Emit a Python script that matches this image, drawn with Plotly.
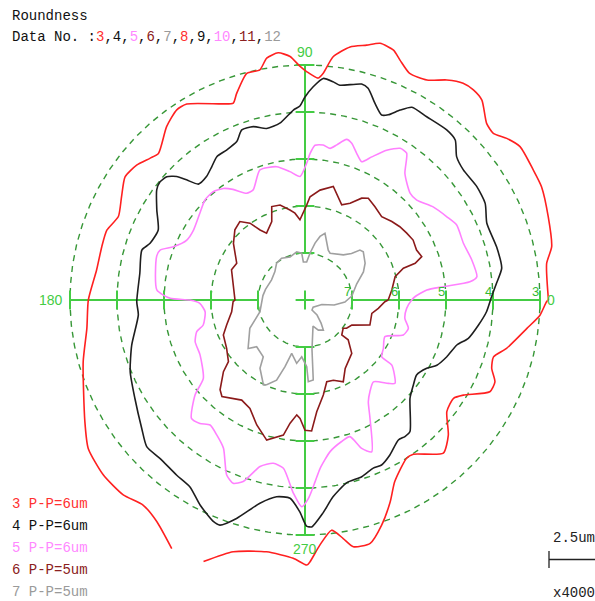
import numpy as np
import plotly.graph_objects as go

# ---------------------------------------------------------------------------
# Roundness profiles: polar angle (degrees) and radius in ring divisions
# (one division = 2.5 um).  None marks a break in the recorded trace.
# ---------------------------------------------------------------------------
theta3 = [0, 8.6, 12.2, 18.9, 25.6, 29.7, 35.5, 38.7, 41.5, 44.2,
          48.5, 51.3, 53.9, 57.2, 61.0, 65.2, 68.4, 70.5, 73.7, 76.4,
          79.9, 83.4, 85.4, 86.6, 89.6, 91.2, 93.5, 96.2, 99.0, 101.1,
          104.4, 108.3, 110.0, 112.6, 121.1, 124.0, 128.6, 135.0, 137.6, 141.3,
          145.6, 150.6, 155.9, 160.6, 165.3, 171.8, 180.0, 187.4, 195.6, 208.9,
          214.4, 220.9, 227.0, 231.7, 236.2, 241.8, None, 248.8, 254.1, 261.3,
          267.4, 270.4, 271.1, 273.5, 276.6, 279.1, 281.1, 285.0, 288.8, 292.9,
          296.3, 302.7, 305.1, 312.1, 316.7, 321.8, 326.5, 329.0, 333.6, 336.7,
          339.9, 343.2, 346.5, 352.7, 356.3, 359.6]
r3 = [5.18, 5.20, 5.37, 5.47, 5.58, 5.59, 5.62, 5.50, 5.35, 5.39,
      5.68, 5.73, 5.71, 5.57, 5.35, 5.31, 5.49, 5.64, 5.69, 5.58,
      5.47, 5.21, 4.84, 4.73, 4.86, 4.97, 5.19, 5.29, 5.21, 4.99,
      4.98, 4.63, 4.46, 4.52, 4.87, 4.88, 4.72, 4.41, 4.47, 4.59,
      4.64, 4.48, 4.35, 4.47, 4.47, 4.48, 4.61, 4.68, 4.90, 5.35,
      5.59, 5.68, 5.67, 5.56, 5.67, 6.00, None, 5.97, 5.57, 5.42,
      5.50, 5.64, 5.57, 5.22, 4.93, 5.14, 5.35, 5.36, 5.06, 4.66,
      4.31, 4.00, 4.01, 4.39, 4.19, 3.84, 3.79, 3.93, 4.39, 4.40,
      4.23, 4.19, 4.41, 4.76, 5.01, 5.14]

theta4 = [1.0, 5.0, 9.2, 15.5, 22.9, 28.2, 33.4, 39.4, 43.4, 46.8,
          50.2, 56.4, 61.0, 63.4, 65.8, 67.5, 70.4, 73.4, 75.3, 80.8,
          82.6, 85.3, 87.8, 90.0, 91.5, 93.5, 98.1, 102.6, 106.6, 110.4,
          113.3, 117.6, 121.6, 125.0, 128.6, 132.6, 134.6, 136.1, 138.3, 140.8,
          143.4, 148.7, 154.5, 159.9, 163.0, 170.8, 180.6, 185.1, 194.6, 202.3,
          210.0, 218.2, 222.8, 227.5, 233.8, 238.4, 242.9, 247.5, 249.3, 252.6,
          257.5, 261.8, 265.7, 268.6, 270.4, 271.7, 274.8, 278.1, 282.8, 287.8,
          292.1, 294.9, 298.7, 303.7, 306.2, 308.6, 316.9, 321.9, 326.1, 330.7,
          333.7, 338.2, 343.5, 346.8, 351.8, 356.3]
r4 = [3.97, 4.09, 4.24, 4.23, 4.20, 4.35, 4.38, 4.36, 4.44, 4.67,
      4.71, 4.68, 4.69, 4.52, 4.32, 4.26, 4.44, 4.70, 4.75, 4.63,
      4.68, 4.73, 4.54, 4.32, 4.13, 4.05, 3.80, 3.74, 3.85, 3.86,
      3.67, 3.60, 3.58, 3.46, 3.36, 3.35, 3.59, 3.79, 3.94, 3.98,
      3.93, 3.69, 3.46, 3.51, 3.63, 3.56, 3.58, 3.56, 3.81, 4.02,
      4.18, 4.42, 4.59, 4.57, 4.62, 4.67, 4.90, 5.10, 5.12, 4.87,
      4.43, 4.23, 4.23, 4.51, 4.81, 4.83, 4.55, 4.23, 3.99, 3.95,
      3.86, 3.87, 3.76, 3.58, 3.60, 3.58, 3.06, 2.93, 2.86, 2.97,
      3.13, 3.25, 3.37, 3.57, 3.73, 3.87]

theta5 = [0.0, 1.7, 4.7, 5.5, 6.3, 7.7, 13.5, 19.7, 26.3, 30.4,
          36.0, 41.8, 45.5, 51.7, 55.3, 57.9, 61.4, 65.0, 67.7, 70.6,
          73.4, 75.5, 78.4, 80.6, 83.3, 86.3, 88.0, 89.3, 92.3, 96.7,
          102.0, 109.1, 115.2, 118.7, 123.1, 126.2, 130.3, 135.0, 140.5, 147.9,
          153.1, 158.0, 161.0, 163.7, 176.1, 179.3, 180.0, 181.8, 186.7, 193.8,
          196.3, 200.8, 207.6, 217.6, 220.8, 226.2, 229.6, 232.8, 236.8, 241.2,
          245.9, 248.6, 251.2, 254.9, 259.0, 262.7, 266.5, 269.1, 271.0, 273.2,
          275.1, 279.4, 284.5, 288.2, 290.9, 293.7, 298.8, 301.9, 305.3, 309.9,
          315.0, 317.2, 323.1, 323.5, 328.3, 335.4, 340.4, 344.7, 349.6, 355.3]
r5 = [2.27, 2.34, 2.60, 2.96, 3.53, 3.69, 3.65, 3.58, 3.60, 3.50,
      3.37, 3.19, 3.19, 3.43, 3.80, 3.81, 3.63, 3.36, 3.18, 3.31,
      3.48, 3.53, 3.37, 3.27, 3.32, 3.30, 3.12, 2.91, 2.63, 2.75,
      2.90, 2.93, 2.59, 2.59, 2.81, 2.94, 3.02, 3.01, 2.90, 2.80,
      2.82, 3.02, 3.26, 3.29, 3.16, 2.87, 2.45, 2.24, 2.14, 2.23,
      2.40, 2.50, 2.52, 2.73, 3.09, 3.49, 3.45, 3.34, 3.43, 3.60,
      4.08, 4.19, 4.08, 3.67, 3.54, 3.61, 4.11, 4.40, 4.22, 3.87,
      3.60, 3.27, 3.11, 3.06, 3.38, 3.53, 2.87, 2.55, 2.39, 2.27,
      2.51, 2.61, 2.31, 2.03, 1.96, 1.87, 2.22, 2.28, 2.16, 2.17]

theta6 = [0.0, 6.6, 14.5, 17.9, 18.4, 20.4, 24.1, 29.0, 33.3, 37.7,
          42.1, 47.4, 53.1, 58.1, 60.9, 65.0, 68.9, 73.5, 76.0, 82.2,
          87.2, 89.0, 93.6, 96.6, 99.5, 104.7, 109.6, 113.0, 119.9, 122.7,
          125.6, 129.7, 135.0, 141.7, 151.7, 157.7, 166.9, 180.0, 181.4, 189.1,
          197.7, 203.2, 211.7, 218.8, 221.3, 226.6, 229.3, 237.7, 243.1, 248.9,
          254.7, 260.9, 263.1, 265.9, 267.6, 270.0, 272.9, 276.0, 280.9, 284.9,
          289.5, 295.1, 300.4, 307.7, 311.2, 317.3, 316.4, 323.5, 325.8, 331.8,
          338.9, 348.7, 353.5, 358.8]
r6 = [1.77, 1.86, 1.98, 2.20, 2.47, 2.65, 2.60, 2.63, 2.59, 2.55,
      2.49, 2.41, 2.48, 2.55, 2.48, 2.27, 2.17, 2.37, 2.49, 2.36,
      2.20, 2.02, 1.71, 1.86, 1.94, 2.09, 2.11, 1.81, 1.64, 1.77,
      2.01, 2.17, 2.11, 1.94, 1.65, 1.69, 1.57, 1.49, 1.53, 1.58,
      1.75, 1.89, 1.96, 2.09, 2.31, 2.63, 2.71, 2.52, 2.59, 2.85,
      3.09, 2.91, 2.64, 2.45, 2.52, 2.77, 2.79, 2.39, 2.06, 1.80,
      1.81, 1.92, 1.69, 1.57, 1.51, 1.25, 1.08, 1.01, 1.07, 1.13,
      1.48, 1.45, 1.57, 1.70]

theta7 = [4.9, 17.2, 25.7, 31.5, 39.6, 42.3, 45.0, 49.6, 61.8, 65.0,
          73.3, 76.7, 80.0, 83.9, 87.5, 92.5, 94.0, 99.8, 109.1, 119.2,
          127.6, 136.7, 149.0, 164.9, 174.0, 194.6, 207.2, 220.4, 224.0, 233.7,
          236.6, 243.9, 245.7, 250.5, 253.3, 256.0, 262.5, 266.7, 271.5, 272.3,
          275.9, 278.0, 287.1, 293.9, 301.4, 304.8, 308.7, 305.0, 318.8, 345.2,
          350.2, 357.1]
r7 = [1.00, 1.15, 1.38, 1.50, 1.61, 1.58, 1.40, 1.26, 1.13, 1.17,
      1.48, 1.39, 1.23, 1.00, 0.81, 0.81, 1.00, 1.04, 0.97, 1.02,
      0.99, 0.88, 0.83, 0.87, 0.90, 0.99, 1.32, 1.59, 1.43, 1.50,
      1.74, 2.01, 1.98, 1.81, 1.48, 1.17, 1.36, 1.21, 1.42, 1.74,
      1.71, 1.07, 0.58, 0.70, 0.75, 0.60, 0.41, 0.26, 0.23, 0.37,
      0.63, 0.85]

# data sets shown on the plot and their peak-to-peak values
data_ids = ["3", "4", "5", "6", "7"]
pp_um = [6, 6, 6, 5, 5]
profiles = [(theta3, r3), (theta4, r4), (theta5, r5), (theta6, r6), (theta7, r7)]

# data numbers listed in the header
header_ids = ["3", "4", "5", "6", "7", "8", "9", "10", "11", "12"]

# reference rings (divisions) and their labels along the 0 deg axis
ring_radii = [1, 2, 3, 4, 5]
ring_labels = ["7", "6", "5", "4", "3"]
direction_labels = {0: "0", 90: "90", 180: "180", 270: "270"}

scale_bar_text = "2.5um"
magnification_text = "x4000"
scale_bar_div = 1.0

# ---------------------------------------------------------------------------
# styling
# ---------------------------------------------------------------------------
W, H = 595, 601
CX, CY = 305, 300          # pixel position of the plot centre
PX = 47.0                  # pixels per ring division

RED = "#ff2020"
BLACK = "#1e1e1e"
PINK = "#ff80ff"
DARKRED = "#8b1a1a"
GRAY = "#a0a0a0"
series_colors = [RED, BLACK, PINK, DARKRED, GRAY]
series_shapes = ["spline", "spline", "spline", "linear", "linear"]
text_colors = ["#ff3030", "#111111", "#ff88ff", "#8b2020", "#9a9a9a"]
AXIS_GREEN = "#44cc44"
RING_GREEN = "#379737"
MONO = "Liberation Mono, Courier New, monospace"
SANS = "Liberation Sans, Arial, sans-serif"


def px_x(p):
    return p / W


def px_y(p):
    return 1 - p / H


fig = go.Figure()

# dashed reference rings
t = np.linspace(0, 2 * np.pi, 721)
for rr in ring_radii:
    fig.add_trace(go.Scatter(
        x=rr * np.cos(t), y=rr * np.sin(t), mode="lines",
        line=dict(color=RING_GREEN, width=1.4, dash="6px,5px"),
        hoverinfo="skip"))

# cross-hair arms, tick marks and centre cross
tick_half = 0.2
ax_x, ax_y = [], []
for ang in direction_labels:
    a = np.deg2rad(ang)
    c, s = np.cos(a), np.sin(a)
    ax_x += [ring_radii[0] * c, ring_radii[-1] * c, None]
    ax_y += [ring_radii[0] * s, ring_radii[-1] * s, None]
    for rr in ring_radii:
        ax_x += [rr * c - tick_half * s, rr * c + tick_half * s, None]
        ax_y += [rr * s - tick_half * c, rr * s + tick_half * c, None]
ax_x += [-tick_half, tick_half, None, 0, 0]
ax_y += [0, 0, None, -tick_half, tick_half]
fig.add_trace(go.Scatter(x=ax_x, y=ax_y, mode="lines",
                         line=dict(color=AXIS_GREEN, width=2),
                         hoverinfo="skip"))

# roundness profiles
for (th, rv), col, shp in zip(profiles, series_colors, series_shapes):
    th_a = np.array(th + [th[0]], dtype=float)
    r_a = np.array(rv + [rv[0]], dtype=float)
    rad = np.deg2rad(th_a)
    line = dict(color=col, width=1.6, shape=shp)
    if shp == "spline":
        line["smoothing"] = 0.6
    fig.add_trace(go.Scatter(
        x=r_a * np.cos(rad), y=r_a * np.sin(rad), mode="lines",
        line=line, hoverinfo="skip"))

annotations = []

# direction labels
outer = ring_radii[-1]
annotations.append(dict(x=0, y=outer + 0.28, text=direction_labels[90],
                        xanchor="center", yanchor="middle"))
annotations.append(dict(x=0, y=-outer - 0.30, text=direction_labels[270],
                        xanchor="center", yanchor="middle"))
annotations.append(dict(x=-outer - 0.1, y=0, text=direction_labels[180],
                        xanchor="right", yanchor="middle"))
annotations.append(dict(x=outer + 0.1, y=0, text=direction_labels[0],
                        xanchor="left", yanchor="middle"))
for a in annotations:
    a.update(xref="x", yref="y", showarrow=False,
             font=dict(family=SANS, size=14, color=AXIS_GREEN))

# ring labels along the 0 deg axis
for rr, lab in zip(ring_radii, ring_labels):
    annotations.append(dict(x=rr - 0.1, y=0.18, xref="x", yref="y", text=lab,
                            showarrow=False, xanchor="center", yanchor="middle",
                            font=dict(family=SANS, size=13, color="#33bb33")))

# header
annotations.append(dict(x=px_x(10), y=px_y(16), xref="paper", yref="paper",
                        text="Roundness", showarrow=False, xanchor="left",
                        yanchor="middle", font=dict(family=MONO, size=14, color="#111111")))
parts = []
for i, hid in enumerate(header_ids):
    parts.append('<span style="color:%s">%s</span>' % (text_colors[i % 5], hid))
header_text = "Data No. :" + ",".join(parts)
annotations.append(dict(x=px_x(10), y=px_y(37), xref="paper", yref="paper",
                        text=header_text, showarrow=False, xanchor="left",
                        yanchor="middle", font=dict(family=MONO, size=14, color="#111111")))

# legend of peak-to-peak values
for i, (did, pp) in enumerate(zip(data_ids, pp_um)):
    annotations.append(dict(x=px_x(10), y=px_y(504 + 22 * i), xref="paper", yref="paper",
                            text="%s P-P=%dum" % (did, pp), showarrow=False,
                            xanchor="left", yanchor="middle",
                            font=dict(family=MONO, size=14, color=text_colors[i])))

# scale bar
bar_x0 = (549 - CX) / PX
bar_y = (CY - 559.5) / PX
annotations.append(dict(x=px_x(551), y=px_y(538), xref="paper", yref="paper",
                        text=scale_bar_text, showarrow=False, xanchor="left",
                        yanchor="middle", font=dict(family=MONO, size=14, color="#222222")))
annotations.append(dict(x=px_x(551), y=px_y(593), xref="paper", yref="paper",
                        text=magnification_text, showarrow=False, xanchor="left",
                        yanchor="middle", font=dict(family=MONO, size=14, color="#222222")))
shapes = [
    dict(type="line", xref="x", yref="y", x0=bar_x0, x1=bar_x0 + scale_bar_div,
         y0=bar_y, y1=bar_y, line=dict(color="#222222", width=1.3)),
    dict(type="line", xref="x", yref="y", x0=bar_x0, x1=bar_x0,
         y0=bar_y - 0.18, y1=bar_y + 0.18, line=dict(color="#222222", width=1.3)),
]

fig.update_layout(
    width=W, height=H, autosize=False,
    margin=dict(l=0, r=0, t=0, b=0, pad=0),
    paper_bgcolor="white", plot_bgcolor="white",
    showlegend=False,
    xaxis=dict(range=[-CX / PX, (W - CX) / PX], visible=False, fixedrange=True),
    yaxis=dict(range=[-(H - CY) / PX, CY / PX], visible=False, fixedrange=True),
    annotations=annotations,
    shapes=shapes,
)

fig.write_html("out.html")
